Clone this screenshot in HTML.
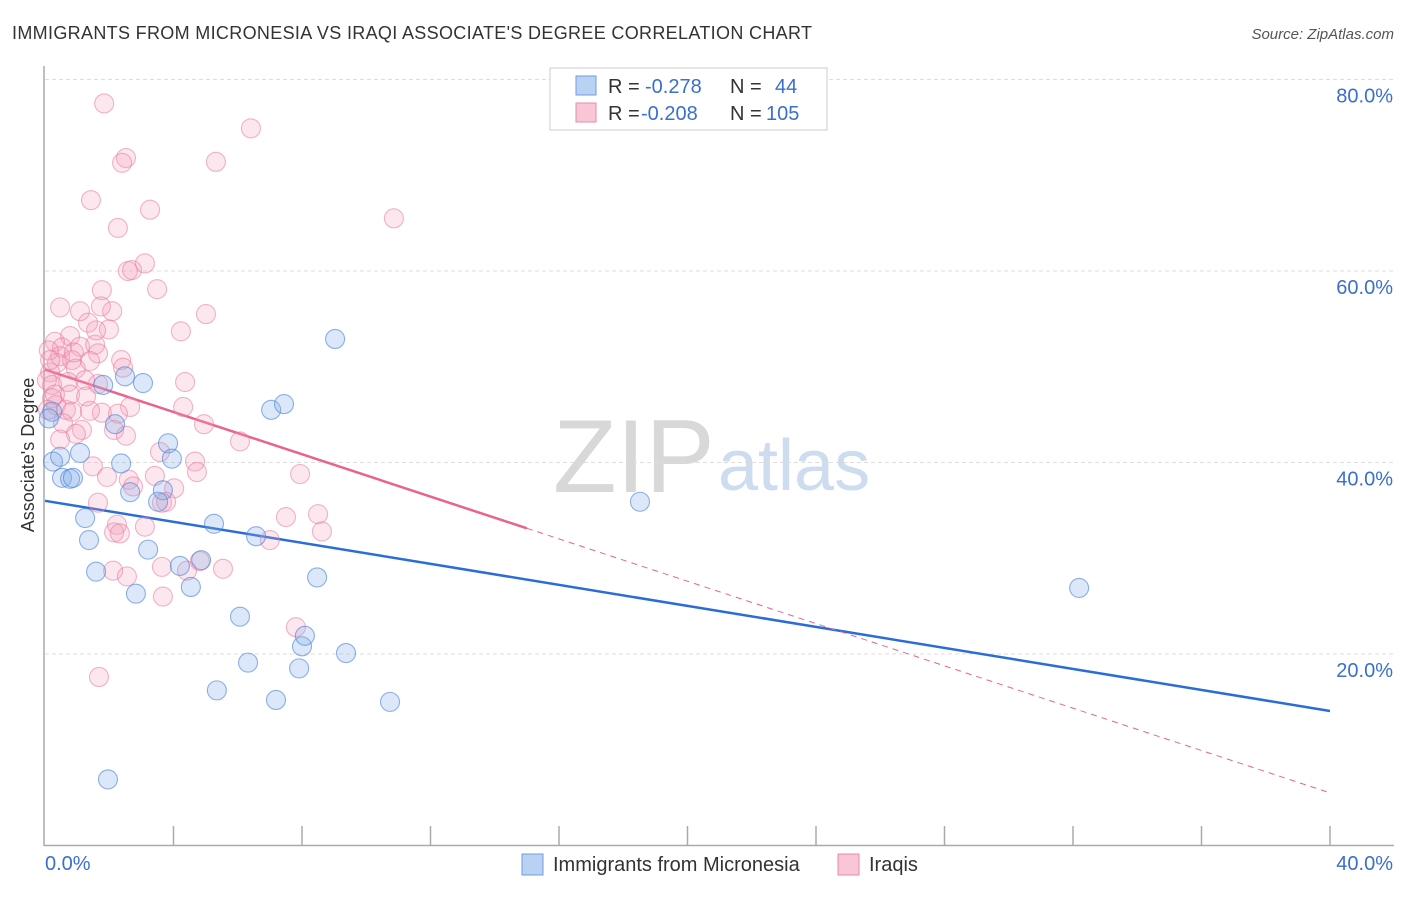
<!DOCTYPE html>
<html><head><meta charset="utf-8"><style>
body{margin:0;background:#fff;font-family:"Liberation Sans",sans-serif;}
svg text{font-family:"Liberation Sans",sans-serif;}
</style></head><body>
<svg id="chart" width="1406" height="892" xmlns="http://www.w3.org/2000/svg">
<text x="12" y="39" font-size="18" fill="#333" textLength="800">IMMIGRANTS FROM MICRONESIA VS IRAQI ASSOCIATE'S DEGREE CORRELATION CHART</text>
<text x="1394" y="39" font-size="15" fill="#555" font-style="italic" text-anchor="end">Source: ZipAtlas.com</text>
<g>
<text x="553" y="492" font-size="104" fill="#d8d8d8" font-family="Liberation Serif, serif">ZIP</text>
<text x="718" y="490" font-size="72" fill="#cddcef">atlas</text>
</g>
<g id="grid"></g>
<g id="axes"></g>
<g id="lines"></g>
<g id="points"></g>
<text transform="translate(34,455) rotate(-90)" font-size="18" fill="#333" text-anchor="middle">Associate's Degree</text>
<g>
<rect x="550" y="68" width="277" height="62" fill="#fff" stroke="#ccc"/>
<rect x="576" y="76" width="20" height="19" fill="#b9d1f3" stroke="#6d9de0"/>
<text x="608" y="93" font-size="20" fill="#333">R = </text><text x="645" y="93" font-size="20" fill="#3a6fd0">-0.278</text>
<text x="730" y="93" font-size="20" fill="#333">N = </text><text x="775" y="93" font-size="20" fill="#3a6fd0">44</text>
<rect x="576" y="103" width="20" height="19" fill="#f9c6d6" stroke="#e88aaa"/>
<text x="608" y="120" font-size="20" fill="#333">R = </text><text x="641" y="120" font-size="20" fill="#3a6fd0">-0.208</text>
<text x="730" y="120" font-size="20" fill="#333">N = </text><text x="766" y="120" font-size="20" fill="#3a6fd0">105</text>
</g>
<g>
<rect x="522" y="854" width="21" height="21" fill="#b9d1f3" stroke="#6d9de0"/>
<text x="553" y="871" font-size="20" fill="#333">Immigrants from Micronesia</text>
<rect x="838" y="854" width="21" height="21" fill="#f9c6d6" stroke="#e88aaa"/>
<text x="869" y="871" font-size="20" fill="#333">Iraqis</text>
</g>
</svg>
<script>
const blueX=[0.22,0.12,0.25,0.47,0.53,0.78,0.87,1.09,1.25,1.37,1.59,1.81,2.49,2.18,3.05,2.37,2.65,3.21,2.83,3.67,3.83,3.95,3.52,4.20,4.54,4.86,5.26,5.35,6.07,6.32,6.57,7.04,7.44,7.19,7.91,8.00,8.09,8.47,9.37,9.03,10.74,18.52,32.19,1.96];
const blueY=[45.3,44.6,40.1,40.6,38.4,38.3,38.4,41.0,34.2,31.9,28.6,48.1,49.0,44.0,48.3,39.9,36.9,30.9,26.3,37.1,42.0,40.4,35.9,29.2,27.0,29.8,33.6,16.2,23.9,19.1,32.3,45.5,46.1,15.2,18.5,20.8,21.9,28.0,20.1,52.9,15.0,35.9,26.9,6.9];
const pinkX=[1.84,6.41,2.52,2.40,5.32,1.43,3.27,10.86,2.27,2.58,2.71,3.11,3.49,0.47,1.09,1.77,2.09,1.34,1.74,5.01,4.23,1.99,0.78,0.31,0.53,1.09,1.56,1.65,2.37,2.43,0.47,0.84,0.37,0.96,1.40,0.16,0.22,0.72,1.65,0.22,0.34,0.65,0.84,1.77,2.65,4.30,1.40,2.27,4.95,0.56,1.15,0.96,2.15,2.52,6.07,3.58,4.67,4.73,1.49,1.93,3.42,7.94,2.61,2.74,4.02,3.64,1.65,3.77,2.24,2.15,2.33,3.11,7.50,8.50,8.62,7.00,2.12,2.55,3.64,5.54,4.42,4.82,3.67,7.81,1.68,0.12,0.16,0.06,0.31,0.09,4.36,1.59,0.78,1.25,0.90,0.47,1.28];
const pinkY=[77.5,74.9,71.8,71.3,71.4,67.4,66.4,65.5,64.5,60.0,60.1,60.8,58.1,56.2,55.8,58.0,55.8,54.6,56.3,55.5,53.7,53.9,53.2,52.6,52.0,52.1,52.3,51.4,50.7,49.9,51.1,50.7,50.4,49.8,50.6,49.4,48.1,48.4,48.2,46.7,46.0,45.5,45.3,45.2,45.8,45.8,45.4,45.1,44.0,44.1,43.4,43.0,43.4,42.8,42.2,41.1,40.1,39.0,39.6,38.5,38.6,38.8,38.2,37.5,37.3,35.8,35.8,35.9,33.5,32.7,32.6,33.3,34.3,34.6,32.8,31.9,28.7,28.1,29.1,28.9,28.7,29.7,26.0,22.8,17.6,51.7,50.7,48.6,47.1,45.5,48.4,53.8,47.1,48.6,51.5,42.4,46.9];
const yTicks=[20,40,60,80];
const yTickLabels=["20.0%","40.0%","60.0%","80.0%"];
const xTicks=[0,4,8,12,16,20,24,28,32,36,40];
const blueTrend=[36.0,14.05];
const pinkTrend=[49.7,5.5];
const pinkSolidEnd=15.0;

const NS="http://www.w3.org/2000/svg";
const X0=45,X1=1330,Y0=845.5,PXPERPCT=9.575;
function sx(v){return X0+v*(X1-X0)/40;}
function sy(v){return Y0-v*PXPERPCT;}
function mk(tag,attrs,parent){const e=document.createElementNS(NS,tag);for(const k in attrs)e.setAttribute(k,attrs[k]);parent.appendChild(e);return e;}
const grid=document.getElementById('grid'),axes=document.getElementById('axes'),lines=document.getElementById('lines'),pts=document.getElementById('points');
yTicks.forEach((t,i)=>{
  const l=mk('line',{x1:X0,x2:1394,y1:sy(t),y2:sy(t),stroke:'#ddd','stroke-dasharray':'4,3'},grid);
  
  
  const tx=mk('text',{x:1393,y:sy(t)+23,'font-size':20,fill:'#3a6fd0','text-anchor':'end'},grid);
  tx.textContent=yTickLabels[i];
  
  
});
const ya=mk('line',{x1:X0-1,x2:X0-1,y1:66,y2:846,stroke:'#aaa','stroke-width':1.5},axes);


const xa=mk('line',{x1:X0-1,x2:1394,y1:845.5,y2:845.5,stroke:'#aaa','stroke-width':1.5},axes);


xTicks.forEach(t=>{if(t===0)return;
  const l=mk('line',{x1:sx(t),x2:sx(t),y1:826,y2:845,stroke:'#aaa','stroke-width':1.5},axes);
  
  
});
const xl0=mk('text',{x:45,y:870,'font-size':20,fill:'#3a6fd0'},axes);xl0.textContent='0.0%';


const xl1=mk('text',{x:1393,y:870,'font-size':20,fill:'#3a6fd0','text-anchor':'end'},axes);xl1.textContent='40.0%';



function drawPts(xs,ys,fill,stroke,name){xs.forEach((x,i)=>{
  const c=mk('circle',{cx:sx(x),cy:sy(ys[i]),r:9.5,fill:fill,stroke:stroke,'stroke-width':1.1},pts);
  
  
});}
drawPts(pinkX,pinkY,'rgba(244,160,188,0.25)','rgba(232,120,158,0.55)','iraqis');
drawPts(blueX,blueY,'rgba(130,172,232,0.28)','rgba(70,128,215,0.6)','micronesia');

const bl=mk('line',{x1:sx(0),y1:sy(blueTrend[0]),x2:sx(40),y2:sy(blueTrend[1]),stroke:'#2a6dd6','stroke-width':2.5},lines);


const pAt=x=>pinkTrend[0]+(pinkTrend[1]-pinkTrend[0])*x/40;
const pl=mk('line',{x1:sx(0),y1:sy(pinkTrend[0]),x2:sx(pinkSolidEnd),y2:sy(pAt(pinkSolidEnd)),stroke:'#e8638f','stroke-width':2.5},lines);


const pd=mk('line',{x1:sx(pinkSolidEnd),y1:sy(pAt(pinkSolidEnd)),x2:sx(40),y2:sy(pinkTrend[1]),stroke:'#e8638f','stroke-width':1,'stroke-dasharray':'6,5'},lines);


</script>
</body></html>
